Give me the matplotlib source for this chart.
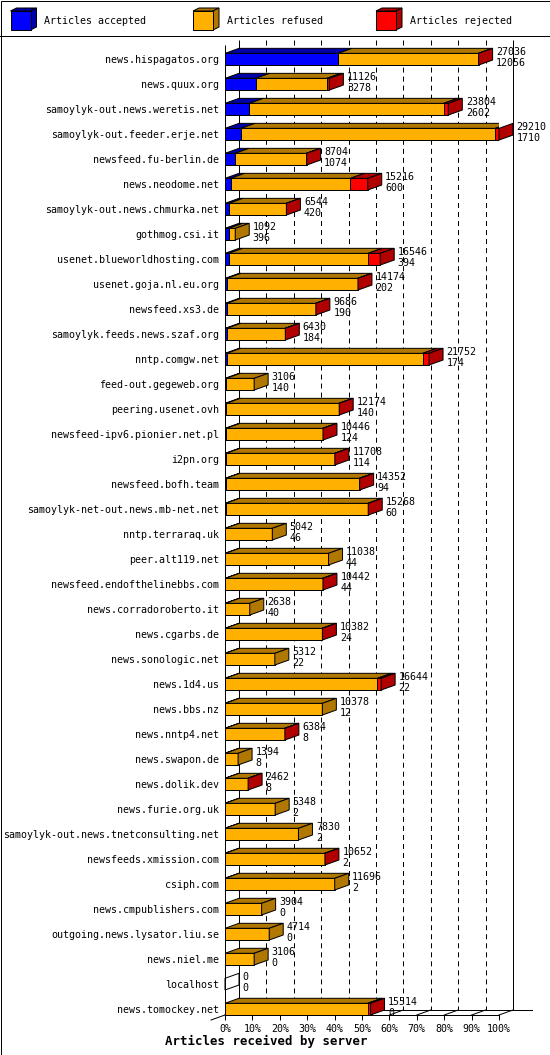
import matplotlib.pyplot as plt
from matplotlib.patches import Polygon, Rectangle

plt.rcParams['font.family'] = 'DejaVu Sans Mono'
plt.rcParams['lines.scale_dashes'] = False

servers = ['news.hispagatos.org', 'news.quux.org', 'samoylyk-out.news.weretis.net',
           'samoylyk-out.feeder.erje.net', 'newsfeed.fu-berlin.de', 'news.neodome.net',
           'samoylyk-out.news.chmurka.net', 'gothmog.csi.it', 'usenet.blueworldhosting.com',
           'usenet.goja.nl.eu.org', 'newsfeed.xs3.de', 'samoylyk.feeds.news.szaf.org',
           'nntp.comgw.net', 'feed-out.gegeweb.org', 'peering.usenet.ovh',
           'newsfeed-ipv6.pionier.net.pl', 'i2pn.org', 'newsfeed.bofh.team',
           'samoylyk-net-out.news.mb-net.net', 'nntp.terraraq.uk', 'peer.alt119.net',
           'newsfeed.endofthelinebbs.com', 'news.corradoroberto.it', 'news.cgarbs.de',
           'news.sonologic.net', 'news.1d4.us', 'news.bbs.nz', 'news.nntp4.net',
           'news.swapon.de', 'news.dolik.dev', 'news.furie.org.uk',
           'samoylyk-out.news.tnetconsulting.net', 'newsfeeds.xmission.com', 'csiph.com',
           'news.cmpublishers.com', 'outgoing.news.lysator.liu.se', 'news.niel.me',
           'localhost', 'news.tomockey.net']
accepted = [12056, 3278, 2602, 1710, 1074, 600, 420, 396, 394, 202, 190, 184, 174, 140,
            140, 124, 114, 94, 60, 46, 44, 44, 40, 24, 22, 22, 12, 8, 8, 8, 2, 2, 2, 2,
            0, 0, 0, 0, 0]
refused = [14960, 7588, 20702, 27100, 7600, 12766, 6104, 696, 14852, 13952, 9476, 6226,
           20898, 2966, 12014, 10302, 11574, 14238, 15188, 4996, 10994, 10378, 2598, 10338,
           5290, 16222, 10366, 6356, 1386, 2434, 5346, 7828, 10630, 11694, 3904, 4714, 3106,
           0, 15214]
rejected = [20, 260, 500, 400, 30, 1850, 20, 0, 1300, 20, 20, 20, 680, 0, 20, 20, 20, 20,
            20, 0, 0, 20, 0, 20, 0, 400, 0, 20, 0, 20, 0, 0, 20, 0, 0, 0, 0, 0, 300]

series_names = ['Articles accepted', 'Articles refused', 'Articles rejected']
face_colors = ['#0000ff', '#ffb000', '#ff0000']
dark_colors = ['#0000a8', '#b07800', '#b00000']
pct_labels = ['0%', '10%', '20%', '30%', '40%', '50%', '60%', '70%', '80%', '90%', '100%']

W, H = 550, 1055
LW = 0.72  # one pixel
FS = 7.2

fig = plt.figure(figsize=(W / 100, H / 100), dpi=100)

# background layer in pixel coordinates (frame, legend, axis title)
bg = fig.add_axes([0, 0, 1, 1])
bg.set_xlim(0, W)
bg.set_ylim(H, 0)
bg.axis('off')
bg.add_patch(Rectangle((0.5, 0.5), W - 1, H - 1, fill=False, lw=LW, ec='black'))
bg.plot([0, W], [36, 36], color='black', lw=LW)

for k, name in enumerate(series_names):
    x0 = [10.5, 193, 376][k]
    y0, y1, d = 11, 30, 6
    bg.add_patch(Polygon([(x0, y0), (x0 + 20, y0), (x0 + 20 + d, y0 - 3), (x0 + d, y0 - 3)],
                         fc=dark_colors[k], ec='black', lw=LW))
    bg.add_patch(Polygon([(x0 + 20, y0), (x0 + 20 + d, y0 - 3), (x0 + 20 + d, y1 - 3), (x0 + 20, y1)],
                         fc=dark_colors[k], ec='black', lw=LW))
    bg.add_patch(Rectangle((x0, y0), 20, y1 - y0, fc=face_colors[k], ec='black', lw=LW))
    bg.text(x0 + 34, 21, name, va='center', ha='left', fontsize=FS)

bg.text(266, 1045, 'Articles received by server', ha='center', va='baseline',
        fontsize=8.9, fontweight='bold')

# chart area
n = len(servers)
totals = [a + r + j for a, r, j in zip(accepted, refused, rejected)]
xmax = max(totals)
HH = 0.234   # half bar height in rows
DY = 0.2     # depth, vertical part
DX = xmax * 14 / 274  # depth, horizontal part
top = -0.768
bottom = n - 1 + HH

ax = fig.add_axes([225 / W, 1 - 1015 / H, 274 / W, 975 / H])
ax.set_facecolor('none')
ax.set_xlim(0, xmax)
ax.set_ylim(bottom, top)
for s in ['left', 'right', 'top']:
    ax.spines[s].set_visible(False)
ax.spines['bottom'].set_linewidth(LW)

# back walls, grid and floor
ax.vlines([xmax * k / 10 + DX for k in range(1, 10)], top, bottom - DY, colors='black',
          lw=LW, linestyles=(0, (3.6, 2.9)), zorder=1)
ax.vlines([DX, xmax + DX], top, bottom - DY, colors='black', lw=LW, zorder=1, clip_on=False)
ax.vlines([0], top + DY, bottom, colors='black', lw=LW, zorder=1)
ax.plot([DX, xmax * (532 - 225) / 274], [bottom - DY, bottom - DY],
        color='black', lw=LW, clip_on=False, zorder=1)
for k in range(11):
    x = xmax * k / 10
    ax.plot([x, x + DX], [bottom, bottom - DY], color='black', lw=LW, clip_on=False, zorder=1)
ax.plot([0, -DX], [bottom, bottom + DY], color='black', lw=LW, clip_on=False, zorder=1)

# front faces
lefts = [0] * n
for k, vals in enumerate([accepted, refused, rejected]):
    ax.barh(range(n), vals, left=lefts, height=2 * HH, color=face_colors[k],
            edgecolor='black', linewidth=[LW if v > 0 else 0 for v in vals], zorder=3)
    lefts = [l + v for l, v in zip(lefts, vals)]

# top and side faces, value labels
for i in range(n):
    segs = [accepted[i], refused[i], rejected[i]]
    yt = i - HH
    yb = i + HH
    left = 0
    last = None
    for k, v in enumerate(segs):
        if v > 0:
            ax.add_patch(Polygon([(left, yt), (left + v, yt), (left + v + DX, yt - DY), (left + DX, yt - DY)],
                                 fc=dark_colors[k], ec='black', lw=LW, zorder=3))
            last = k
        left += v
    end = totals[i]
    side_fc = dark_colors[last] if last is not None else 'none'
    ax.add_patch(Polygon([(end, yt), (end + DX, yt - DY), (end + DX, yb - DY), (end, yb)],
                         fc=side_fc, ec='black', lw=LW, zorder=3, clip_on=False))
    ax.annotate(str(end), xy=(end + DX, i), xytext=(3.5, 4), textcoords='offset pixels',
                ha='left', va='baseline', fontsize=FS, annotation_clip=False)
    ax.annotate(str(accepted[i]), xy=(end + DX, i), xytext=(3.5, -6.5), textcoords='offset pixels',
                ha='left', va='baseline', fontsize=FS, annotation_clip=False)

ax.set_xticks([xmax * k / 10 for k in range(11)], pct_labels)
ax.tick_params(axis='x', length=3.6, width=LW, pad=3, labelsize=FS)
ax.set_yticks(range(n), servers)
ax.tick_params(axis='y', length=0, pad=4.3, labelsize=FS)

fig.savefig('out.png', dpi=100, facecolor='white')
